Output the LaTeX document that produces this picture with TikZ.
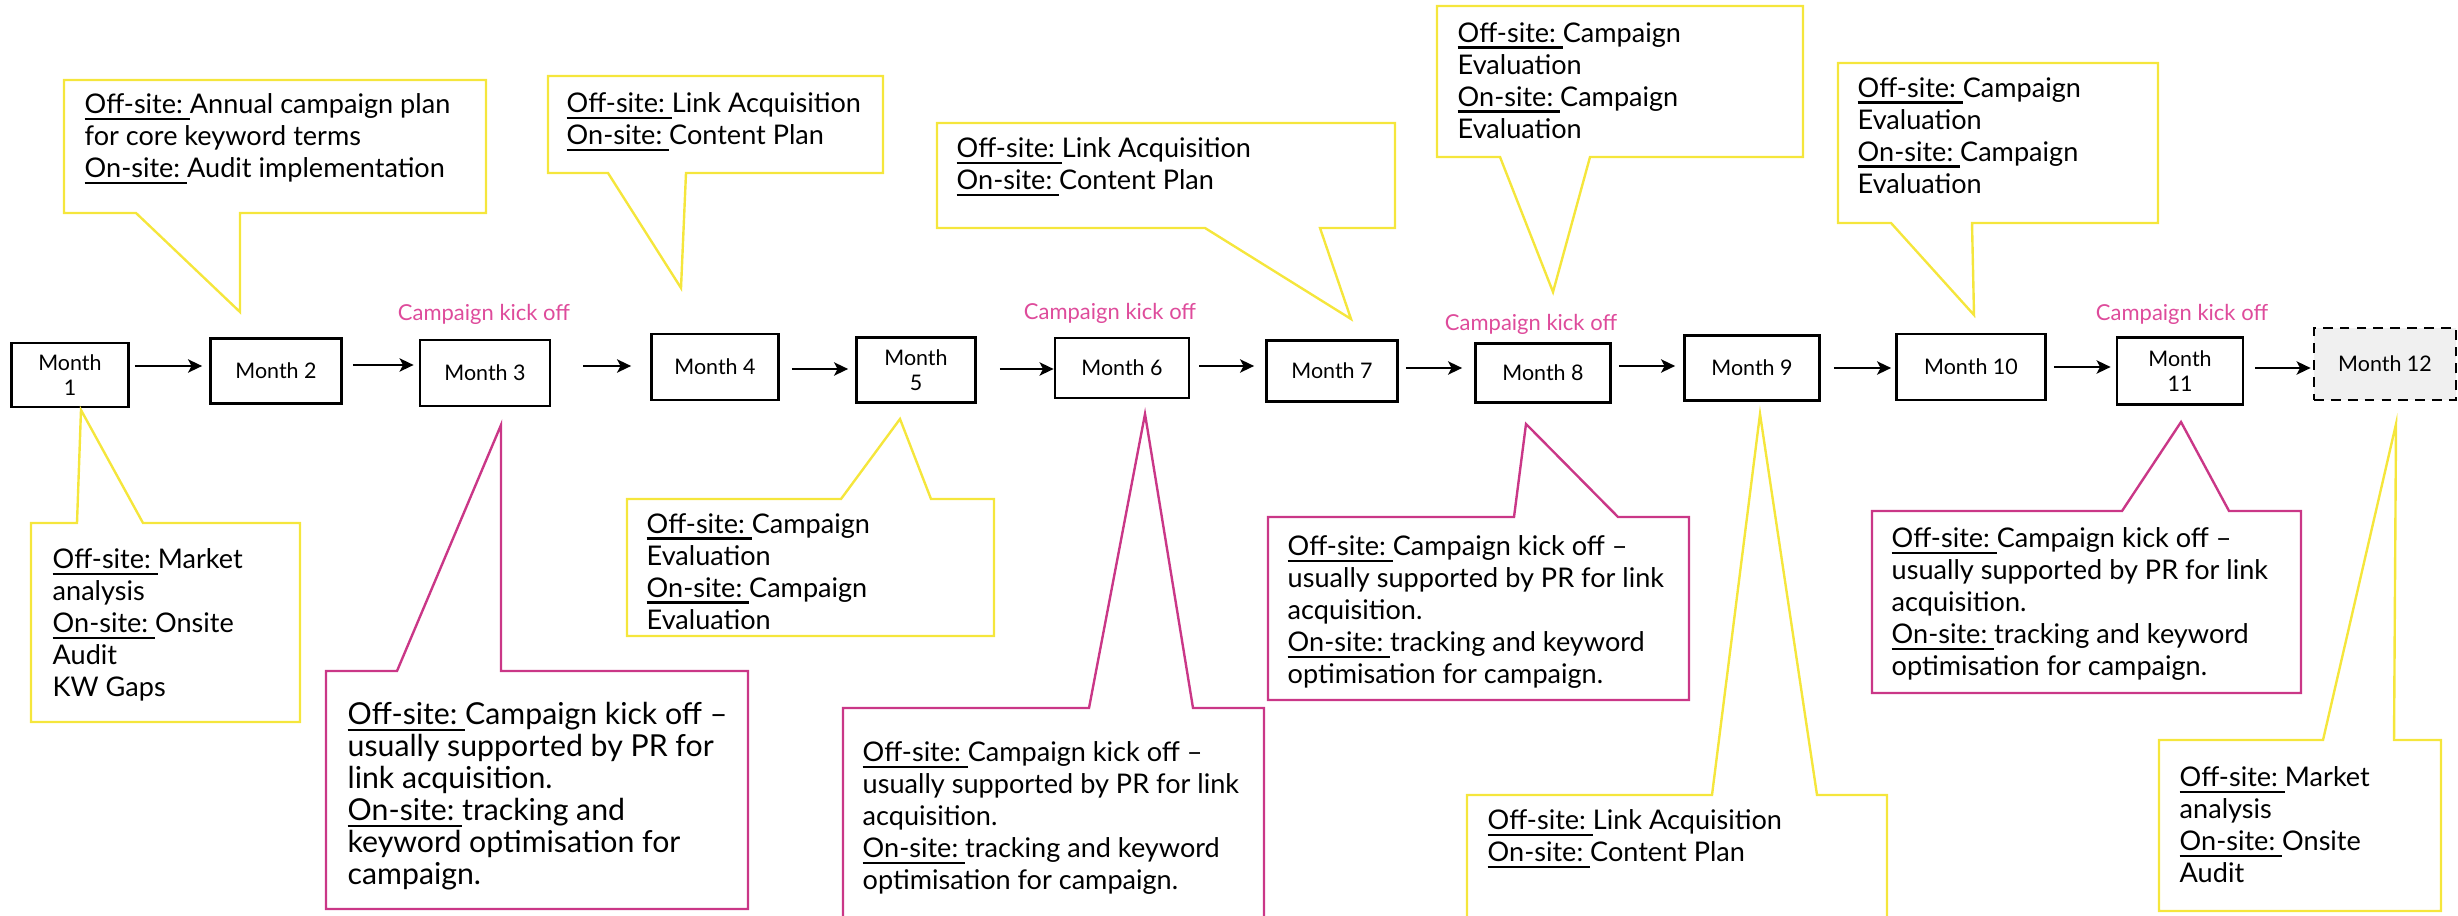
\documentclass[tikz,border=0pt]{standalone}
\usepackage{fontspec}
\setmainfont{Lato}
\usetikzlibrary{arrows.meta,calc}

\definecolor{calyel}{RGB}{245,230,60}
\definecolor{calpink}{RGB}{202,55,135}
\definecolor{kickpink}{RGB}{222,75,155}
\definecolor{lastgray}{RGB}{240,240,240}

\newcommand{\sitelbl}[1]{\setbox0=\hbox{#1\ }\rlap{\rule[-1.8pt]{\wd0}{0.7pt}}\box0}

\begin{document}
\begin{tikzpicture}[x=0.01cm,y=-0.01cm,>={Stealth[length=4pt,width=3.8pt,inset=1pt]}]
\tikzstyle{month} = [draw,line width=0.77pt,inner sep=1pt,align=center,font=\fontsize{6.1}{7.1}\selectfont]
\tikzstyle{ycall} = [draw=calyel,line width=0.68pt]
\tikzstyle{pcall} = [draw=calpink,line width=0.68pt]
\tikzstyle{ctext} = [anchor=north west,align=left,inner sep=0pt,font=\fontsize{7.7}{9.1}\selectfont]
\tikzstyle{kick} = [text=kickpink,inner sep=0pt,font=\fontsize{6.25}{7}\selectfont]
\useasboundingbox (0,0) rectangle (2458,916);

% the twelve months
\node[month,minimum width=1.17cm,minimum height=0.64cm] (m1) at (70,375) {Month\\1};
\node[month,minimum width=1.31cm,minimum height=0.65cm] (m2) at (276,371) {Month 2};
\node[month,minimum width=1.30cm,minimum height=0.66cm] (m3) at (485,373) {Month 3};
\node[month,minimum width=1.27cm,minimum height=0.66cm] (m4) at (715,367) {Month 4};
\node[month,minimum width=1.19cm,minimum height=0.65cm] (m5) at (916,370) {Month\\5};
\node[month,minimum width=1.34cm,minimum height=0.60cm] (m6) at (1122,368) {Month 6};
\node[month,minimum width=1.31cm,minimum height=0.61cm] (m7) at (1332,371) {Month 7};
\node[month,minimum width=1.35cm,minimum height=0.59cm] (m8) at (1543,373) {Month 8};
\node[month,minimum width=1.35cm,minimum height=0.65cm] (m9) at (1752,368) {Month 9};
\node[month,minimum width=1.49cm,minimum height=0.66cm] (m10) at (1971,367) {Month 10};
\node[month,minimum width=1.26cm,minimum height=0.67cm] (m11) at (2180,371) {Month\\11};
\node[month,minimum width=1.42cm,minimum height=0.72cm,fill=lastgray,dash pattern=on 2.8pt off 2pt] (m12) at (2385,364) {Month 12};

\foreach \a/\b/\s/\e/\y in {m1/m2/5/7/366,m2/m3/10/5/365,m3/m4/32/19/366,m4/m5/12/7/369,m5/m6/23/0/369,m6/m7/9/11/366,m7/m8/7/12/368,m8/m9/7/8/366,m9/m10/13/4/368,m10/m11/7/5/367,m11/m12/11/2/368}
  \draw[->,line width=0.5pt] ($(\a.east |- 0,\y)+(\s,0)$) -- ($(\b.west |- 0,\y)+(-\e,0)$);

\node[kick] (k3) at (484,314) {Campaign kick off};
\node[kick] (k6) at (1110,313) {Campaign kick off};
\node[kick] (k8) at (1531,324) {Campaign kick off};
\node[kick] (k11) at (2182,314) {Campaign kick off};

% callouts above
\draw[ycall] (64,80) -- (486,80) -- (486,213) -- (240,213) -- (240,312) -- (136,213) -- (64,213) -- cycle;
\node[ctext] (t1) at (84,93) {\sitelbl{Off-site:}Annual campaign plan\\for core keyword terms\\\sitelbl{On-site:}Audit implementation};
\draw[ycall] (548,76) -- (883,76) -- (883,173) -- (686,173) -- (681,288) -- (608,173) -- (548,173) -- cycle;
\node[ctext] (t2) at (566,92) {\sitelbl{Off-site:}Link Acquisition\\\sitelbl{On-site:}Content Plan};
\draw[ycall] (937,123) -- (1395,123) -- (1395,228) -- (1320,228) -- (1351,319) -- (1205,228) -- (937,228) -- cycle;
\node[ctext] (t3) at (956,137) {\sitelbl{Off-site:}Link Acquisition\\\sitelbl{On-site:}Content Plan};
\draw[ycall] (1437,6) -- (1803,6) -- (1803,157) -- (1590,157) -- (1553,292) -- (1500,157) -- (1437,157) -- cycle;
\node[ctext] (t4) at (1457,22) {\sitelbl{Off-site:}Campaign\\Evaluation\\\sitelbl{On-site:}Campaign\\Evaluation};
\draw[ycall] (1838,63) -- (2158,63) -- (2158,223) -- (1972,223) -- (1974,315) -- (1891,223) -- (1838,223) -- cycle;
\node[ctext] (t5) at (1857,77) {\sitelbl{Off-site:}Campaign\\Evaluation\\\sitelbl{On-site:}Campaign\\Evaluation};

% callouts below
\draw[ycall] (31,523) -- (77,523) -- (81,410) -- (143,523) -- (300,523) -- (300,722) -- (31,722) -- cycle;
\node[ctext] (t6) at (52,548) {\sitelbl{Off-site:}Market\\analysis\\\sitelbl{On-site:}Onsite\\Audit\\KW Gaps};
\draw[pcall] (326,671) -- (397,671) -- (501,425) -- (501,671) -- (748,671) -- (748,909) -- (326,909) -- cycle;
\node[ctext,font=\fontsize{8.6}{9.1}\selectfont] (t7) at (347,702) {\sitelbl{Off-site:}Campaign kick off --\\usually supported by PR for\\link acquisition.\\\sitelbl{On-site:}tracking and\\keyword optimisation for\\campaign.};
\draw[ycall] (627,499) -- (841,499) -- (900,419) -- (931,499) -- (994,499) -- (994,636) -- (627,636) -- cycle;
\node[ctext] (t8) at (646,513) {\sitelbl{Off-site:}Campaign\\Evaluation\\\sitelbl{On-site:}Campaign\\Evaluation};
\draw[pcall] (843,708) -- (1089,708) -- (1145,414) -- (1193,708) -- (1264,708) -- (1264,930) -- (843,930) -- cycle;
\node[ctext] (t9) at (862,741) {\sitelbl{Off-site:}Campaign kick off --\\usually supported by PR for link\\acquisition.\\\sitelbl{On-site:}tracking and keyword\\optimisation for campaign.};
\draw[pcall] (1268,517) -- (1514,517) -- (1526,424) -- (1618,517) -- (1689,517) -- (1689,700) -- (1268,700) -- cycle;
\node[ctext] (t10) at (1287,535) {\sitelbl{Off-site:}Campaign kick off --\\usually supported by PR for link\\acquisition.\\\sitelbl{On-site:}tracking and keyword\\optimisation for campaign.};
\draw[ycall] (1467,795) -- (1712,795) -- (1760,414) -- (1817,795) -- (1887,795) -- (1887,930) -- (1467,930) -- cycle;
\node[ctext] (t11) at (1487,809) {\sitelbl{Off-site:}Link Acquisition\\\sitelbl{On-site:}Content Plan};
\draw[pcall] (1872,511) -- (2122,511) -- (2181,422) -- (2229,511) -- (2301,511) -- (2301,693) -- (1872,693) -- cycle;
\node[ctext] (t12) at (1891,527) {\sitelbl{Off-site:}Campaign kick off --\\usually supported by PR for link\\acquisition.\\\sitelbl{On-site:}tracking and keyword\\optimisation for campaign.};
\draw[ycall] (2159,740) -- (2323,740) -- (2396,424) -- (2394,740) -- (2441,740) -- (2441,911) -- (2159,911) -- cycle;
\node[ctext] (t13) at (2179,766) {\sitelbl{Off-site:}Market\\analysis\\\sitelbl{On-site:}Onsite\\Audit};
\end{tikzpicture}
\end{document}
